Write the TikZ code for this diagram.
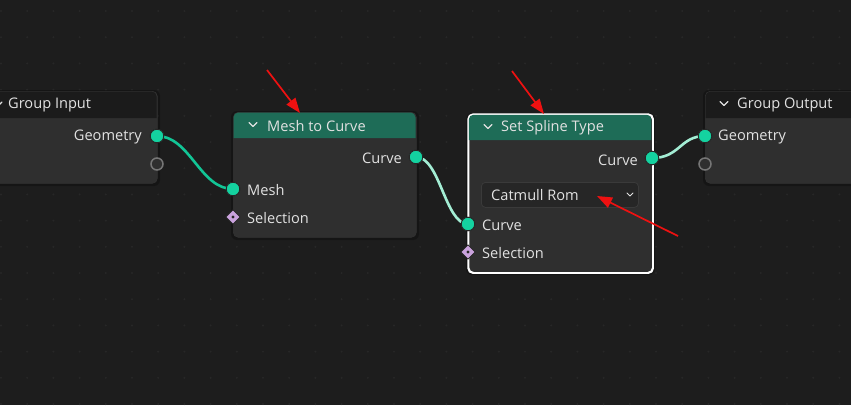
\documentclass[tikz,border=0pt]{standalone}
\usepackage{fontspec}
\setmainfont{Open Sans}
\usetikzlibrary{arrows.meta}
\definecolor{bg}{HTML}{1D1D1D}
\definecolor{dotc}{HTML}{272727}
\definecolor{hdark}{HTML}{1B1B1B}
\definecolor{body}{HTML}{2F2F2F}
\definecolor{teal}{HTML}{1E6C57}
\definecolor{txt}{HTML}{E2E2E2}
\definecolor{geo}{HTML}{14D2A0}
\definecolor{linkA}{HTML}{12C596}
\definecolor{linkB}{HTML}{A3EDD4}
\definecolor{selc}{HTML}{C9A2DC}
\definecolor{hollow}{HTML}{767676}
\definecolor{ddfill}{HTML}{262626}
\definecolor{ddline}{HTML}{3A3A3A}
\definecolor{redarr}{HTML}{EE1111}
\tikzset{
  nodebox/.style={draw=black!80, line width=0.6pt, fill=body, rounded corners=5pt, inner sep=0pt, anchor=north west},
  selbox/.style={draw=white, line width=1.3pt, fill=body, rounded corners=5pt, inner sep=0pt, anchor=north west},
  lbl/.style={text=txt, font=\fontsize{14.6}{16}\selectfont, inner sep=0pt},
  ttl/.style={text=txt, font=\fontsize{14.6}{16}\selectfont, inner sep=0pt, anchor=west},
  geosock/.style={circle, fill=geo, draw=black!85, line width=0.9pt, minimum size=13.5pt, inner sep=0pt},
  holsock/.style={circle, fill=body, draw=hollow, line width=1.5pt, minimum size=12pt, inner sep=0pt},
  selsock/.style={inner sep=0pt, minimum size=14pt},
  diam/.style={fill=selc, draw=black!85, line width=0.7pt},
  chev/.style={draw=txt, line width=1.1pt, line cap=round, line join=round},
  linkstyleA/.style={draw=linkA, line width=2.6pt},
  linkstyleB/.style={draw=linkB, line width=2.6pt},
  redarrow/.style={draw=redarr, line width=1.7pt, -{Triangle[length=15pt,width=11pt]}},
}
\begin{document}
\begin{tikzpicture}[x=1pt,y=-1pt]
\useasboundingbox (0,0) rectangle (851,405);
\fill[bg] (0,0) rectangle (851,405);
% dot grid
\foreach \i in {0,...,32} {
  \foreach \j in {0,...,15} {
    \fill[dotc] ({1+26.2*\i},{11+26.2*\j}) circle (1.1pt);
  }
}
% ---------- Group Input ----------
\fill[black, opacity=0.25, rounded corners=6pt] (-12,90) rectangle (160,186);
\node[nodebox, minimum width=169pt, minimum height=92pt] (gin) at (-12,91) {};
\fill[hdark] (-11.5,118) {[rounded corners=5pt] -- (-11.5,91.5) -- (156.6,91.5)} -- (156.6,118) -- cycle;
\draw[chev] (-2,106) -- (2,102);
\node[ttl] (gint) at (8,105) {Group Input};
\node[lbl, anchor=east] (ginl) at (142,137) {Geometry};
\node[geosock] (ginG) at (157,136) {};
\node[holsock] (ginE) at (157,164) {};
% ---------- Mesh to Curve ----------
\fill[black, opacity=0.25, rounded corners=6pt] (231,111) rectangle (419,240);
\node[nodebox, minimum width=183pt, minimum height=125pt] (m2c) at (233,112) {};
\fill[teal] (233.5,138) {[rounded corners=5pt] -- (233.5,112.5) -- (415.5,112.5)} -- (415.5,138) -- cycle;
\draw[chev] (249,122.5) -- (253,126.5) -- (257,122.5);
\node[ttl] (m2ct) at (267,126) {Mesh to Curve};
\node[lbl, anchor=east] (m2cOl) at (402,158) {Curve};
\node[lbl, anchor=west] (m2cMl) at (247,190) {Mesh};
\node[lbl, anchor=west] (m2cSl) at (247,218) {Selection};
\node[geosock] (m2cO) at (416,157) {};
\node[geosock] (m2cM) at (233,189) {};
\node[selsock] (m2cS) at (233,217) {};
\draw[diam] (m2cS.north) -- (m2cS.east) -- (m2cS.south) -- (m2cS.west) -- cycle;
\fill[black!85] (m2cS.center) circle (1.7pt);
% ---------- Set Spline Type ----------
\fill[black, opacity=0.25, rounded corners=6pt] (466,113) rectangle (655,275);
\node[selbox, minimum width=184pt, minimum height=158pt] (sst) at (468,114) {};
\fill[teal] (468.7,140) {[rounded corners=4.5pt] -- (468.7,114.7) -- (651.3,114.7)} -- (651.3,140) -- cycle;
\draw[draw=white, line width=1.3pt, rounded corners=5pt] (sst.north west) rectangle (sst.south east);
\draw[chev] (484,124.5) -- (488,128.5) -- (492,124.5);
\node[ttl] (sstt) at (501,128) {Set Spline Type};
\node[lbl, anchor=east] (sstOl) at (638,160) {Curve};
\node[draw=ddline, fill=ddfill, rounded corners=4pt, line width=0.8pt, minimum width=157pt, minimum height=25pt, inner sep=0pt, anchor=north west] (dd) at (481,182) {};
\node[lbl, anchor=west] (ddt) at (491,195.5) {Catmull Rom};
\draw[chev, line width=0.9pt] (627,193) -- (630,196) -- (633,193);
\node[lbl, anchor=west] (sstCl) at (482,225.5) {Curve};
\node[lbl, anchor=west] (sstSl) at (482,253.5) {Selection};
\node[geosock] (sstO) at (652,158) {};
\node[geosock] (sstC) at (468,224) {};
\node[selsock] (sstS) at (468,252) {};
\draw[diam] (sstS.north) -- (sstS.east) -- (sstS.south) -- (sstS.west) -- cycle;
\fill[black!85] (sstS.center) circle (1.7pt);
% ---------- Group Output ----------
\fill[black, opacity=0.25, rounded corners=6pt] (703,90) rectangle (870,186);
\node[nodebox, minimum width=160pt, minimum height=92pt] (gout) at (705,91) {};
\fill[hdark] (705.5,118) {[rounded corners=5pt] -- (705.5,91.5) -- (864.5,91.5)} -- (864.5,118) -- cycle;
\draw[chev] (720,101.5) -- (724,105.5) -- (728,101.5);
\node[ttl] (goutt) at (737,105) {Group Output};
\node[lbl, anchor=west] (goutl) at (718,137) {Geometry};
\node[geosock] (goutG) at (705,136) {};
\node[holsock] (goutE) at (705,164) {};
% ---------- links ----------
\draw[linkstyleA] (ginG.center) .. controls (190,136) and (200,189) .. (m2cM.center);
\draw[linkstyleB] (m2cO.center) .. controls (440,157) and (445,224) .. (sstC.center);
\draw[linkstyleB] (sstO.center) .. controls (680,158) and (680,136) .. (goutG.center);
% redraw sockets on top of links
\node[geosock] at (ginG) {};
\node[geosock] at (m2cM) {};
\node[geosock] at (m2cO) {};
\node[geosock] at (sstC) {};
\node[geosock] at (sstO) {};
\node[geosock] at (goutG) {};
% ---------- red arrows ----------
\coordinate (a1s) at (267,70);
\coordinate (a1e) at (300,113);
\coordinate (a2s) at (512,71);
\coordinate (a2e) at (544,114);
\coordinate (a3s) at (678,236);
\coordinate (a3e) at (597,196);
\draw[redarrow] (a1s) -- (a1e);
\draw[redarrow] (a2s) -- (a2e);
\draw[redarrow] (a3s) -- (a3e);
\end{tikzpicture}
\end{document}
